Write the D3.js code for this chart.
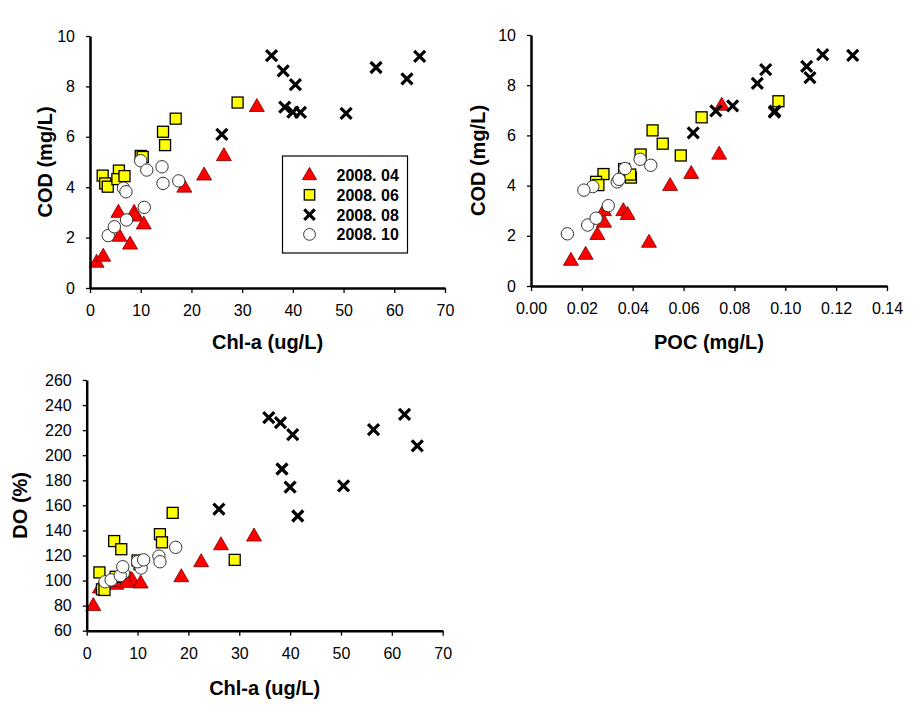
<!DOCTYPE html>
<html>
<head>
<meta charset="utf-8">
<script src="https://cdn.jsdelivr.net/npm/d3@7"></script>
<style>
  body { margin: 0; background: #fff; }
  svg { display: block; font-family: "Liberation Sans", Arial, sans-serif; }
</style>
</head>
<body>
<svg id="chart" width="919" height="709"></svg>
<script>
// ---- Data ----
const seriesNames = ["2008. 04", "2008. 06", "2008. 08", "2008. 10"];

// 2008.04
const chl04 = [1.3, 2.6, 5.8, 5.6, 8.7, 9.0, 10.6, 7.9, 18.6, 22.5, 26.4, 32.9];
const cod04 = [1.02, 1.26, 2.05, 3.0, 3.0, 2.85, 2.54, 1.74, 4.0, 4.48, 5.25, 7.2];
const poc04 = [0.0157, 0.0215, 0.0261, 0.0287, 0.0363, 0.038, 0.0287, 0.0464, 0.0547, 0.063, 0.074, 0.075];
const do04  = [80, 94, 97, 99, 101, 100, 98, 98.5, 103, 115, 128.5, 135.5];

// 2008.06
const chl06 = [2.5, 3.0, 3.5, 5.7, 5.4, 6.8, 10.0, 10.4, 14.4, 14.8, 16.9, 29.1];
const cod06 = [4.46, 4.15, 4.02, 4.66, 4.32, 4.44, 5.24, 5.2, 6.2, 5.67, 6.72, 7.36];
const poc06 = [0.0285, 0.0256, 0.0265, 0.0366, 0.0393, 0.039, 0.0431, 0.0589, 0.0478, 0.0518, 0.0671, 0.0973];
const do06  = [106.5, 93, 92.5, 103, 131.5, 125, 116, 113, 137, 130.5, 154, 116.5];

// 2008.08
const chl08 = [26.0, 35.8, 38.1, 40.5, 38.4, 40.0, 41.5, 50.5, 56.4, 62.5, 65.0];
const cod08 = [6.1, 9.22, 8.62, 8.07, 7.18, 6.98, 6.97, 6.93, 8.75, 8.3, 9.19];
const poc08 = [0.0638, 0.1147, 0.0923, 0.089, 0.0793, 0.0727, 0.0959, 0.0957, 0.1084, 0.1097, 0.1265];
const do08  = [157, 230, 226, 216.5, 189, 174.5, 151.5, 175.5, 220.5, 232.5, 207.5];

// 2008.10
const chl10 = [3.6, 4.8, 7.2, 10.7, 6.6, 7.1, 10.0, 11.2, 14.2, 14.4, 17.5];
const cod10 = [2.08, 2.43, 2.7, 3.2, 3.96, 3.82, 5.05, 4.68, 4.81, 4.15, 4.25];
const poc10 = [0.0143, 0.0223, 0.0256, 0.0304, 0.0243, 0.0208, 0.0429, 0.037, 0.0471, 0.0339, 0.0346];
const do10  = [99, 100.5, 106, 110, 104, 111, 115, 116.5, 119.5, 115, 126.5];

// Tick labels
const chlTicks = [0, 10, 20, 30, 40, 50, 60, 70];
const codTicks = [0, 2, 4, 6, 8, 10];
const pocTicks = [0.00, 0.02, 0.04, 0.06, 0.08, 0.10, 0.12, 0.14];
const doTicks  = [60, 80, 100, 120, 140, 160, 180, 200, 220, 240, 260];

// ---- Build tables ----
function rows(chl, poc, cod, dov, s) {
  return chl.map((c, i) => ({ chl: c, poc: poc[i], cod: cod[i], do: dov[i], s }));
}
const data = [
  ...rows(chl04, poc04, cod04, do04, 0),
  ...rows(chl06, poc06, cod06, do06, 1),
  ...rows(chl08, poc08, cod08, do08, 2),
  ...rows(chl10, poc10, cod10, do10, 3)
];

const svg = d3.select("#chart");

// marker drawing
function drawMarker(g, s, x, y, scale) {
  const k = scale || 1;
  if (s === 0) {
    const h = 13 * k, w = 15 * k;
    g.append("path")
      .attr("d", `M${x},${y - h * 0.62} L${x + w / 2},${y + h * 0.38} L${x - w / 2},${y + h * 0.38} Z`)
      .attr("fill", "#ff0000").attr("stroke", "#7a0000").attr("stroke-width", 0.8);
  } else if (s === 1) {
    const a = 11 * k;
    g.append("rect").attr("x", x - a / 2).attr("y", y - a / 2).attr("width", a).attr("height", a)
      .attr("fill", "#ffff00").attr("stroke", "#000").attr("stroke-width", 1.3);
  } else if (s === 2) {
    const r = 5.5 * k;
    g.append("path")
      .attr("d", `M${x - r},${y - r} L${x + r},${y + r} M${x - r},${y + r} L${x + r},${y - r}`)
      .attr("stroke", "#000").attr("stroke-width", 3.2).attr("fill", "none");
  } else {
    g.append("circle").attr("cx", x).attr("cy", y).attr("r", 6.2 * k)
      .attr("fill", "#fff").attr("stroke", "#333").attr("stroke-width", 1);
  }
}

function panel(cfg) {
  const g = svg.append("g");
  const x = d3.scaleLinear().domain(cfg.xDomain).range([cfg.x0, cfg.x1]);
  const y = d3.scaleLinear().domain(cfg.yDomain).range([cfg.y0, cfg.y1]);

  [0, 1, 2, 3].forEach(s => {
    data.filter(d => d.s === s).forEach(d => {
      drawMarker(g, s, x(d[cfg.xKey]), y(d[cfg.yKey]));
    });
  });

  const xAxis = d3.axisBottom(x).tickValues(cfg.xTicks).tickSize(5).tickSizeOuter(0)
    .tickPadding(12).tickFormat(cfg.xFmt);
  const yAxis = d3.axisLeft(y).tickValues(cfg.yTicks).tickSize(4).tickSizeOuter(0)
    .tickPadding(cfg.yPad).tickFormat(d3.format("d"));

  const gx = g.append("g").attr("transform", `translate(0,${cfg.y0})`).call(xAxis);
  const gy = g.append("g").attr("transform", `translate(${cfg.x0},0)`).call(yAxis);
  [gx, gy].forEach(a => {
    a.select(".domain").attr("stroke", "#000").attr("stroke-width", 2.5);
    a.selectAll(".tick line").attr("stroke", "#000").attr("stroke-width", 1.3);
    a.selectAll(".tick text").attr("fill", "#000").style("font-size", "16px")
      .style("font-family", '"Liberation Sans", Arial, sans-serif');
  });

  g.append("text").attr("x", (cfg.x0 + cfg.x1) / 2).attr("y", cfg.xTitleY)
    .attr("text-anchor", "middle").style("font-size", "20px").style("font-weight", "bold")
    .text(cfg.xTitle);
  g.append("text")
    .attr("transform", `translate(${cfg.yTitleX},${(cfg.y0 + cfg.y1) / 2}) rotate(-90)`)
    .attr("text-anchor", "middle").style("font-size", "20px").style("font-weight", "bold")
    .text(cfg.yTitle);
  return g;
}

panel({
  xKey: "chl", yKey: "cod",
  xDomain: [0, 70], yDomain: [0, 10],
  x0: 90, x1: 445, y0: 288, y1: 36,
  xTicks: chlTicks, yTicks: codTicks, xFmt: d3.format("d"), yPad: 11,
  xTitle: "Chl-a (ug/L)", yTitle: "COD (mg/L)", xTitleY: 349, yTitleX: 52
});

panel({
  xKey: "poc", yKey: "cod",
  xDomain: [0, 0.14], yDomain: [0, 10],
  x0: 531, x1: 887, y0: 286, y1: 35,
  xTicks: pocTicks, yTicks: codTicks, xFmt: d3.format(".2f"), yPad: 11,
  xTitle: "POC (mg/L)", yTitle: "COD (mg/L)", xTitleY: 349, yTitleX: 485
});

panel({
  xKey: "chl", yKey: "do",
  xDomain: [0, 70], yDomain: [60, 260],
  x0: 86.7, x1: 442.7, y0: 630.7, y1: 380,
  xTicks: chlTicks, yTicks: doTicks, xFmt: d3.format("d"), yPad: 11,
  xTitle: "Chl-a (ug/L)", yTitle: "DO (%)", xTitleY: 695, yTitleX: 27
});

// Legend (first panel)
const lg = svg.append("g");
lg.append("rect").attr("x", 282.5).attr("y", 156).attr("width", 125).attr("height", 97)
  .attr("fill", "#fff").attr("stroke", "#000").attr("stroke-width", 1.2);
seriesNames.forEach((name, i) => {
  const yy = 175 + i * 19.8;
  drawMarker(lg, i, 309.5, yy, 0.95);
  lg.append("text").attr("x", 336.5).attr("y", yy + 6)
    .style("font-size", "16px").style("font-weight", "bold").attr("fill", "#000")
    .text(name);
});
</script>
</body>
</html>
